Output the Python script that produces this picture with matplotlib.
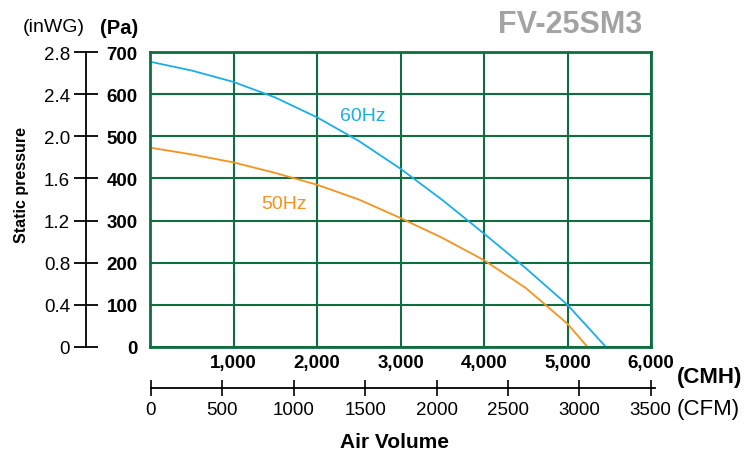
import matplotlib.pyplot as plt
import numpy as np

plt.rcParams['font.family'] = ['Liberation Sans', 'DejaVu Sans']

# fan curves (air volume in CMH, static pressure in Pa)
cmh_60 = [0, 500, 1000, 1500, 2000, 2500, 3000, 3500, 4000, 4500, 5000, 5460]
pa_60 = [677, 656, 629, 592, 545, 489, 423, 349, 269, 187, 100, 0]
cmh_50 = [0, 500, 1000, 1500, 2000, 2500, 3000, 3500, 4000, 4500, 5000, 5240]
pa_50 = [473, 457, 438, 413, 385, 350, 306, 259, 206, 140, 55, 0]

pa_ticks = [0, 100, 200, 300, 400, 500, 600, 700]
inwg_ticks = [0, 0.4, 0.8, 1.2, 1.6, 2.0, 2.4, 2.8]
inwg_labels = ["0", "0.4", "0.8", "1.2", "1.6", "2.0", "2.4", "2.8"]
cmh_ticks = [1000, 2000, 3000, 4000, 5000, 6000]
cfm_ticks = [0, 500, 1000, 1500, 2000, 2500, 3000, 3500]

green = '#0f6e3f'
blue = '#1aaee6'
orange = '#f5931e'
W, H = 754, 460
fig = plt.figure(figsize=(W / 100, H / 100), dpi=100)

# main grid box
ax = fig.add_axes([150 / W, 1 - 348 / H, 501 / W, 295 / H])
ax.set_xlim(0, 6000)
ax.set_ylim(0, 700)
ax.plot(cmh_60, pa_60, color=blue, lw=1.3)
ax.plot(cmh_50, pa_50, color=orange, lw=1.3)
ax.set_yticks(pa_ticks)
ax.set_yticklabels([str(v) for v in pa_ticks], fontweight='bold', fontsize=13.5)
ax.set_xticks(cmh_ticks)
ax.set_xticklabels(["{:,}".format(v) for v in cmh_ticks], fontweight='bold', fontsize=13.5)
ax.tick_params(axis='y', length=0, pad=9)
ax.tick_params(axis='x', length=0, pad=5)
ax.grid(True, color=green, lw=1.5)
for s in ax.spines.values():
    s.set_color(green)
    s.set_linewidth(2)
ax.text(2550, 550, "60Hz", color=blue, fontsize=14, ha='center', va='center')
ax.text(1605, 340, "50Hz", color=orange, fontsize=14, ha='center', va='center')

# inWG scale on the left
axl = fig.add_axes([86 / W, 1 - 348 / H, 0.0001, 295 / H])
axl.set_ylim(0, 2.8)
axl.set_yticks(inwg_ticks)
axl.set_yticklabels(inwg_labels, fontsize=13.5)
axl.set_xticks([])
axl.tick_params(axis='y', direction='inout', length=17, width=1.3, pad=3)
for k in ['top', 'right', 'bottom']:
    axl.spines[k].set_visible(False)
axl.spines['left'].set_linewidth(1.3)

# CFM scale under the chart
axb = fig.add_axes([151 / W, 1 - 389 / H, 504 / W, 0.0001])
axb.set_xlim(0, 3530)
axb.set_xticks(cfm_ticks)
axb.set_xticklabels([str(v) for v in cfm_ticks], fontsize=13.5)
axb.set_yticks([])
axb.tick_params(axis='x', direction='inout', length=11, width=1.2, pad=4)
for k in ['top', 'right', 'left']:
    axb.spines[k].set_visible(False)
axb.spines['bottom'].set_linewidth(1.3)

# labels
fig.text(23 / W, 1 - 28 / H, "(inWG)", fontsize=14, va='center', ha='left')
fig.text(100 / W, 1 - 28 / H, "(Pa)", fontsize=14.5, fontweight='bold', va='center', ha='left')
fig.text(22 / W, 1 - 185 / H, "Static pressure", fontsize=11.5, fontweight='bold',
         rotation=90, va='center', ha='center')
fig.text(570 / W, 1 - 25 / H, "FV-25SM3", fontsize=22, fontweight='bold',
         color='#a3a3a3', va='center', ha='center')
fig.text(677 / W, 1 - 378 / H, "(CMH)", fontsize=16, fontweight='bold', va='center', ha='left')
fig.text(677 / W, 1 - 410 / H, "(CFM)", fontsize=16, va='center', ha='left')
fig.text(395 / W, 1 - 443 / H, "Air Volume", fontsize=15, fontweight='bold', va='center', ha='center')

fig.savefig("out.png", dpi=100)
